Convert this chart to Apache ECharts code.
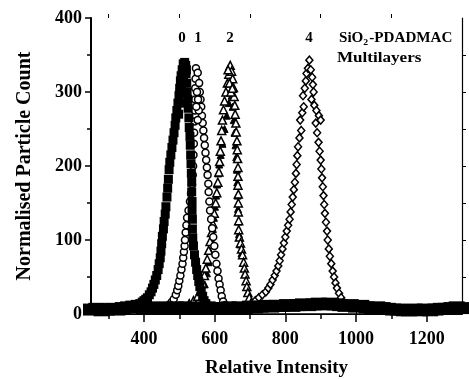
<!DOCTYPE html>
<html>
<head>
<meta charset="utf-8">
<script src="https://cdn.jsdelivr.net/npm/echarts@6/dist/echarts.min.js"></script>
<style>
  html, body { margin: 0; padding: 0; background: #fff; }
  #chart { width: 469px; height: 379px; }
</style>
</head>
<body>
<div id="chart"></div>
<script>
// baseline of the 0-layer sample, spans the whole range
const baseline0 = [
  [250,6],[265,7],[280,5],[295,6],[310,7],[325,6],[340,8],[355,9],[370,10],[385,11],
  [400,8],[415,9],[430,8],[445,8],[460,9],[475,8],[490,9],[505,8],[520,9],[535,8],[550,8],[565,9],
  [580,9],[595,8],[610,7],[625,8],[640,9],[655,8],[670,9],[685,8],[700,10],[715,9],[730,10],
  [745,11],[760,10],[775,11],[790,11],[805,12],[820,11],[835,12],[850,13],[865,12],[880,13],
  [895,14],[910,13],[925,14],[940,13],[955,12],[970,11],[985,12],[1000,10],[1015,11],[1030,9],
  [1045,8],[1060,9],[1075,8],[1090,7],[1105,6],[1120,6],[1135,5],[1150,5],[1165,6],[1180,5],
  [1195,6],[1210,5],[1225,6],[1240,7],[1255,7],[1270,8],[1285,9],[1300,8]
];
const layer0 = [
  [380,12],[388,14],[395,16],[400,18],[405,20],[410,22],[415,26],[420,30],[424,35],[428,40],
  [432,46],[436,52],[440,60],[443,68],[446,76],[448,85],[450,95],[452,105],[455,115],[457,125],
  [460,135],[462,145],[465,158],[467,170],[469,182],[471,195],[473,205],[476,215],[479,225],
  [482,235],[485,245],[488,255],[490,265],[493,275],[496,285],[499,295],[501,305],[503,315],
  [505,322],[508,330],[511,338],[515,340],[518,336],[519,325],[521,312],[522,300],[524,290],
  [525,278],[527,265],[528,252],[530,240],[531,228],[532,215],[533,203],[534,190],[535,178],
  [535,165],[536,152],[536,140],[537,128],[537,115],[538,103],[540,92],[543,80],[546,70],
  [549,60],[552,52],[555,44],[558,37],[562,30],[566,24],[570,18],[575,14],
  [498,270],[502,298],[506,310],[510,325],[514,330],[520,330],[516,300],[518,285],[512,318]
];
const layer1 = [
  [470,12],[478,16],[484,20],[490,26],[494,32],[497,38],[500,45],[503,52],[506,60],[509,68],
  [511,76],[513,84],[515,92],[516,100],[518,110],[520,120],[522,130],[526,140],[530,152],
  [533,163],[536,175],[538,188],[539,200],[540,215],[541,230],[542,245],[543,260],[544,275],
  [545,290],[545,305],[546,318],[547,332],[552,326],[556,312],[558,300],[560,290],[562,280],
  [564,268],[566,258],[568,248],[570,238],[572,228],[574,218],[576,208],[578,198],[580,188],
  [582,176],[583,165],[585,152],[587,140],[590,128],[593,116],[596,104],[599,92],[602,80],
  [605,68],[608,58],[611,48],[614,40],[617,32],[620,24],[624,17],[630,12],
  [550,300],[553,290],[555,275],[548,280],[552,262]
];
const layer2 = [
  [528,14],[540,18],[552,24],[560,32],[566,42],[571,52],[575,62],[579,74],[583,86],[587,98],
  [591,110],[595,122],[599,136],[603,150],[606,164],[609,178],[612,192],[614,206],[616,220],
  [618,234],[620,248],[622,262],[625,276],[628,288],[632,300],[636,312],[640,324],[644,336],
  [648,328],[651,318],[653,306],[655,294],[657,282],[658,270],[660,258],[661,246],[663,234],
  [664,222],[665,210],[666,198],[666,186],[666,174],[667,162],[667,150],[667,138],[668,126],
  [668,114],[670,104],[673,96],[676,88],[679,80],[682,70],[684,62],[686,54],[689,45],[691,37],
  [694,29],[698,22],[704,16],[712,12],
  [638,330],[642,312],[646,300],[650,305]
];
const layer2b = [
  [572,40],[578,55],[583,70],[587,85],[591,100],[595,115],[598,130],[601,145],[604,160],
  [607,175],[610,190],[613,202],[617,215],[622,230],[628,250],[634,268],[640,285],[644,300],
  [648,295],[651,280],[654,262],[656,245],[659,228],[661,212],[663,195],[664,178],[665,160],
  [666,142],[667,125],[669,108],[672,94],[676,82]
];
const layer4 = [
  [715,18],[725,22],[735,26],[745,30],[752,35],[758,40],[764,46],[770,52],[775,58],[780,65],
  [784,72],[788,80],[792,88],[796,96],[800,104],[804,112],[808,120],[812,128],[815,138],
  [818,148],[821,158],[824,168],[827,178],[830,190],[832,202],[834,214],[836,226],[840,238],
  [845,248],[842,262],[848,272],[852,280],[850,295],[855,305],[858,315],[860,325],[864,332],
  [868,343],[872,330],[876,320],[878,310],[880,300],[874,290],[882,282],[888,275],[895,268],
  [900,262],[886,258],[890,245],[894,232],[897,220],[900,208],[902,196],[904,184],[906,172],
  [908,160],[910,148],[912,136],[915,124],[918,112],[920,100],[923,88],[926,78],[930,68],
  [934,58],[938,50],[942,42],[946,35],[952,28],[958,22],[965,16]
];
const xLabels = [400, 600, 800, 1000, 1200];
const xMinor = [300, 500, 700, 900, 1100];
const yMinor = [50, 150, 250, 350];
const yRightTicks = [50, 100, 150, 200, 250, 300, 350];
const peakLabels = [['0', 182], ['1', 198], ['2', 230], ['4', 309]];

const serif = '"Liberation Serif", "DejaVu Serif", serif';
const black = '#000';

const chart = echarts.init(document.getElementById('chart'));

const lineStyle = { color: black, width: 1.5 };
const noLabel = { show: false };

chart.setOption({
  animation: false,
  backgroundColor: '#fff',
  grid: { left: 91, top: 18, right: 7, bottom: 65, containLabel: false, outerBoundsMode: 'none' },
  xAxis: [
    {
      type: 'value', position: 'bottom', min: 250, max: 1300,
      axisLine: { show: true, lineStyle },
      axisTick: { show: true, customValues: xLabels, length: 8, lineStyle },
      axisLabel: {
        customValues: xLabels, formatter: v => String(v),
        color: black, fontFamily: serif, fontWeight: 'bold', fontSize: 18, margin: 16
      },
      splitLine: { show: false },
      name: 'Relative Intensity', nameLocation: 'middle', nameGap: 45,
      nameTextStyle: { color: black, fontFamily: serif, fontWeight: 'bold', fontSize: 19 }
    },
    {
      type: 'value', position: 'bottom', min: 250, max: 1300,
      axisLine: { show: false },
      axisTick: { show: true, customValues: xMinor, length: 5, lineStyle },
      axisLabel: noLabel, splitLine: { show: false }
    },
    {
      type: 'value', position: 'top', min: 250, max: 1300,
      axisLine: { show: true, lineStyle: { color: black, width: 1 } },
      axisTick: { show: true, customValues: xLabels, length: 9, lineStyle: { color: black, width: 1 } },
      axisLabel: noLabel, splitLine: { show: false }
    },
    {
      type: 'value', position: 'top', min: 250, max: 1300,
      axisLine: { show: false },
      axisTick: { show: true, customValues: xMinor, length: 4, lineStyle: { color: black, width: 1 } },
      axisLabel: noLabel, splitLine: { show: false }
    }
  ],
  yAxis: [
    {
      type: 'value', position: 'left', min: 0, max: 400, interval: 100,
      axisLine: { show: true, lineStyle: { color: black, width: 2 } },
      axisTick: { show: true, length: 6, lineStyle },
      axisLabel: { color: black, fontFamily: serif, fontWeight: 'bold', fontSize: 18, margin: 9 },
      splitLine: { show: false },
      name: 'Normalised Particle Count', nameLocation: 'middle', nameGap: 56,
      nameTextStyle: { color: black, fontFamily: serif, fontWeight: 'bold', fontSize: 20 }
    },
    {
      type: 'value', position: 'left', min: 0, max: 400,
      axisLine: { show: false },
      axisTick: { show: true, customValues: yMinor, length: 4, lineStyle },
      axisLabel: noLabel, splitLine: { show: false }
    },
    {
      type: 'value', position: 'right', min: 0, max: 400,
      axisLine: { show: true, lineStyle: { color: black, width: 1.2 } },
      axisTick: { show: true, customValues: yRightTicks, length: 4, lineStyle: { color: black, width: 1 } },
      axisLabel: noLabel, splitLine: { show: false }
    }
  ],
  series: [
    {
      type: 'scatter', data: layer2b, symbol: 'triangle', symbolSize: 7,
      itemStyle: { color: black, borderColor: black, borderWidth: 1, opacity: 1 }
    },
    {
      type: 'scatter', data: layer2, symbol: 'triangle', symbolSize: 8,
      itemStyle: { color: '#fff', borderColor: black, borderWidth: 1.5, opacity: 1 }
    },
    {
      type: 'scatter', data: layer1, symbol: 'circle', symbolSize: 7,
      itemStyle: { color: '#fff', borderColor: black, borderWidth: 1.5, opacity: 1 }
    },
    {
      type: 'scatter', data: layer4, symbol: 'diamond', symbolSize: [7, 8],
      itemStyle: { color: '#fff', borderColor: black, borderWidth: 1.5, opacity: 1 }
    },
    {
      type: 'scatter', data: layer0, symbol: 'rect', symbolSize: 9,
      itemStyle: { color: black, opacity: 1 }
    },
    {
      type: 'scatter', data: baseline0, symbol: 'rect', symbolSize: [16, 12],
      itemStyle: { color: black, opacity: 1 }
    }
  ],
  graphic: [
    ...peakLabels.map(([t, x]) => ({
      type: 'text', x, y: 38,
      style: { text: t, fill: black, font: 'bold 15px ' + serif, align: 'center', verticalAlign: 'middle' }
    })),
    {
      type: 'text', x: 339, y: 30, scaleX: 1.08,
      style: {
        text: '{a|SiO}{b|2}{a|-PDADMAC}',
        fill: black,
        rich: {
          a: { fontFamily: serif, fontWeight: 'bold', fontSize: 14, fill: black },
          b: { fontFamily: serif, fontWeight: 'bold', fontSize: 9, fill: black, padding: [8, 1, 0, 0] }
        }
      }
    },
    {
      type: 'text', x: 337, y: 58, scaleX: 1.22,
      style: { text: 'Multilayers', fill: black, font: 'bold 14px ' + serif, verticalAlign: 'middle' }
    }
  ]
});
</script>
</body>
</html>
